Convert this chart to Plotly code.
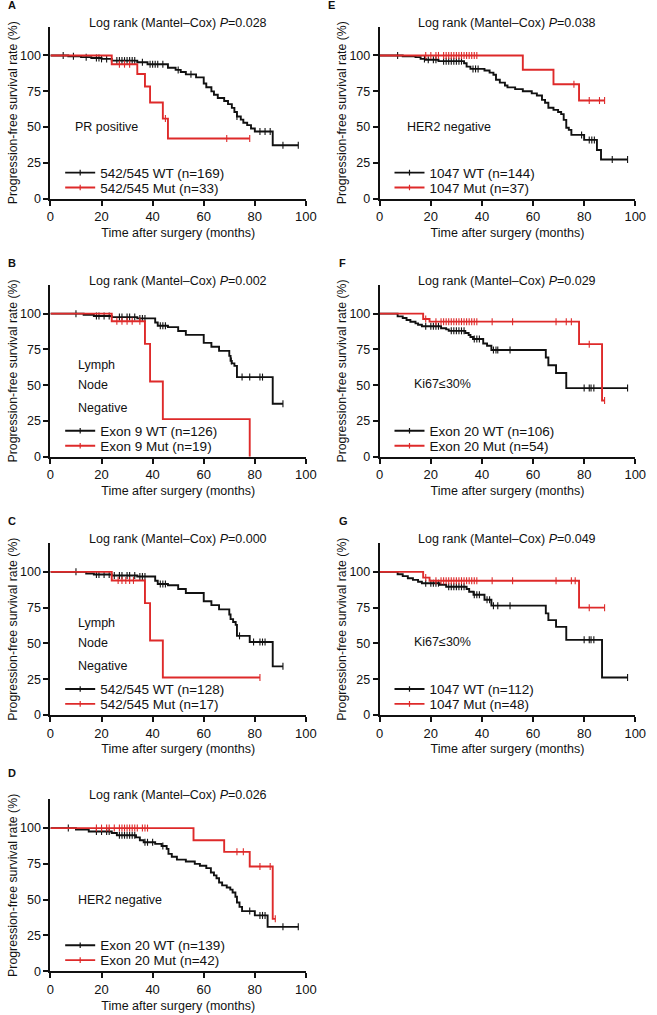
import plotly.graph_objects as go

FONT = "Liberation Sans, Arial, sans-serif"
BLACK = "#111111"
RED = "#DE2A2A"

# ---------------- data (months, survival %) ----------------
A_wt_time = [7, 12, 16, 20, 24, 34, 38, 46, 49, 51, 53, 57, 60, 61, 63, 64, 65.5, 68, 69.5, 71, 72, 73, 74.5, 75.5, 77, 78.5, 80, 87]
A_wt_surv = [99.4, 98.8, 98.2, 97.6, 96.4, 95.2, 93.9, 91.4, 89.9, 88.4, 86.8, 84.7, 80.4, 77.8, 74.9, 72.5, 70.3, 68.2, 66.0, 63.4, 60.5, 57.4, 55.2, 53.0, 51.3, 49.0, 46.9, 37.3]
A_wt_cens = [5, 9, 14, 18, 19, 20, 22, 26, 27, 28, 29, 30, 31, 32, 33, 36, 39, 40, 41, 42, 44, 50, 55, 73, 82, 84, 86, 91, 97]
A_mut_time = [24, 34, 37, 39, 44, 46]
A_mut_surv = [93.9, 87.0, 78.3, 67.1, 55.9, 42.0]
A_mut_cens = [27, 29, 31, 45, 69, 78]

B_wt_time = [13, 17, 24, 34, 41, 42, 46, 50, 53, 60, 63, 66, 70, 70.5, 71, 72, 73, 87]
B_wt_surv = [99.2, 98.4, 97.6, 96.7, 93.8, 91.5, 90.6, 87.9, 85.2, 79.6, 76.9, 74.0, 70.5, 67.0, 65.3, 63.5, 55.7, 37.1]
B_wt_cens = [10, 18, 19, 21, 23, 27, 28, 30, 31, 33, 35, 36, 37, 43, 44, 45, 70.8, 75, 78, 82, 83, 91]
B_mut_time = [24, 37, 39, 44, 78]
B_mut_surv = [94.7, 78.9, 52.6, 26.3, 0]
B_mut_cens = [26, 28, 30, 32, 35]

C_wt_time = [14, 17, 24, 34, 41, 42, 46, 50, 53, 60, 63, 66, 70, 70.5, 71.5, 72.5, 73, 78, 87]
C_wt_surv = [98.9, 98.2, 97.5, 96.8, 93.8, 91.5, 90.6, 88.0, 85.2, 79.5, 76.8, 73.8, 70.2, 67.0, 65.0, 63.0, 55.3, 51.0, 34.0]
C_wt_cens = [10, 18, 19, 21, 23, 25, 27, 28, 30, 31, 33, 35, 36, 37, 43, 44, 45, 74, 79.5, 82, 83, 84, 91]
C_mut_time = [24, 37, 39, 44]
C_mut_surv = [94.0, 78.2, 52.1, 26.2]
C_mut_cens = [26.5, 28, 29.5, 31, 32.5, 82]

D_wt_time = [10, 15, 24, 26, 33.5, 35, 36.5, 41, 43.5, 45.5, 46.2, 47.5, 49.5, 53, 56.5, 58.5, 61, 62.8, 64, 65, 66, 67.2, 69, 70.4, 71.3, 72.4, 73, 74, 75, 80, 85]
D_wt_surv = [99.0, 97.6, 96.6, 95.0, 93.5, 91.5, 90.1, 89.0, 87.5, 85.5, 82.0, 80.0, 78.0, 76.7, 75.0, 73.7, 72.0, 69.0, 67.0, 65.0, 62.0, 60.0, 58.5, 57.0, 55.0, 52.0, 48.0, 45.0, 42.0, 39.0, 31.0]
D_wt_cens = [7, 18, 20, 22, 23, 27, 28, 29, 30, 31, 32, 33, 37, 38, 40, 44, 78, 82, 83, 84, 91, 97]
D_mut_time = [56, 68, 78, 87]
D_mut_surv = [91.5, 83.4, 73.2, 36.6]
D_mut_cens = [18, 20, 22, 23, 25, 27, 28, 29, 30, 31, 32, 33, 34, 36, 37, 38, 73, 75.5, 82, 86, 88]

E_wt_time = [9, 14, 16, 18, 23, 33, 34, 35.5, 41, 43, 44.5, 45.5, 47, 49, 50, 53, 56, 59.5, 61.5, 63.5, 64.7, 66, 68, 69.8, 71, 72, 73, 74, 75, 80, 85, 86.6]
E_wt_surv = [99.4, 98.8, 97.6, 97.0, 96.0, 94.5, 92.2, 90.6, 89.5, 88.0, 86.5, 83.0, 81.0, 79.0, 77.7, 76.5, 75.0, 73.5, 72.0, 69.0, 67.0, 63.5, 62.0, 60.5, 59.0, 55.0, 49.5, 48.0, 44.5, 41.0, 34.0, 27.3]
E_wt_cens = [7, 17.5, 19, 21, 22, 25, 26, 27, 28, 29, 30, 31, 32, 36.5, 37.5, 38.5, 79, 82, 83, 84, 91, 97]
E_mut_time = [56, 68, 78]
E_mut_surv = [90.0, 79.9, 68.5]
E_mut_cens = [18, 20, 22, 23, 25, 26, 27, 28, 29, 30, 31, 32, 33, 34, 35, 36, 37, 38, 76, 82, 86, 88]

F_wt_time = [7, 9, 10.5, 12, 14, 15, 16.5, 24, 26, 27, 33.5, 34.8, 35.5, 36.5, 40.5, 42, 43.7, 65, 66, 69, 73]
F_wt_surv = [98.1, 97.0, 95.6, 94.3, 93.2, 92.2, 91.2, 89.8, 89.0, 88.0, 86.5, 85.1, 83.7, 82.3, 79.2, 77.6, 74.6, 69.4, 64.0, 58.6, 48.0]
F_wt_cens = [18, 20, 21, 22, 23, 28, 29, 30, 31, 32, 33, 37, 38, 39, 44.5, 45.5, 46.2, 51, 80, 82, 82.7, 83.8, 97]
F_mut_time = [17, 19.5, 78, 87]
F_mut_surv = [96.3, 94.4, 78.7, 39.3]
F_mut_cens = [18, 22, 24, 25, 26, 27, 28, 29, 30, 31, 32, 33, 34, 35, 36, 37, 38, 44, 52, 69, 73, 75, 82, 88]

G_wt_time = [7, 9, 11, 13, 15, 16.5, 23.5, 26, 34, 35, 36.7, 41, 43.7, 65, 66, 69, 73, 87]
G_wt_surv = [98.3, 97.0, 95.5, 94.4, 93.1, 92.1, 91.0, 89.6, 88.0, 86.1, 84.0, 80.5, 76.4, 71.0, 66.3, 61.6, 52.5, 26.2]
G_wt_cens = [18, 20, 21, 22, 23, 27, 28, 29, 30, 31, 32, 33, 37, 38, 39, 42, 43, 44.5, 46.2, 51, 80, 82, 82.7, 83.8, 97]
G_mut_time = [17, 19.5, 78]
G_mut_surv = [96.0, 93.8, 75.0]
G_mut_cens = [18, 22, 24, 25, 26, 27, 28, 29, 30, 31, 32, 33, 34, 35, 36, 37, 38, 44, 52, 69, 75, 76.5, 82, 88]

letters = ["A", "B", "C", "D", "E", "F", "G"]
p_values = ["0.028", "0.002", "0.000", "0.026", "0.038", "0.029", "0.049"]
wt_labels = ["542/545 WT (n=169)", "Exon 9 WT (n=126)", "542/545 WT (n=128)", "Exon 20 WT (n=139)",
             "1047 WT (n=144)", "Exon 20 WT (n=106)", "1047 WT (n=112)"]
mut_labels = ["542/545 Mut (n=33)", "Exon 9 Mut (n=19)", "542/545 Mut (n=17)", "Exon 20 Mut (n=42)",
              "1047 Mut (n=37)", "Exon 20 Mut (n=54)", "1047 Mut (n=48)"]
notes = [["PR positive"], ["Lymph", "Node", "Negative"], ["Lymph", "Node", "Negative"], ["HER2 negative"],
         ["HER2 negative"], ["Ki67≤30%"], ["Ki67≤30%"]]
note_x = [9, 10, 10, 10, 10, 12.7, 12.7]
note_y = [[50], [64, 50, 34], [64, 50, 34], [50], [50], [51], [51]]
x_ticks = [0, 20, 40, 60, 80, 100]
y_ticks = [0, 25, 50, 75, 100]
x_title = "Time after surgery (months)"
y_title = "Progression-free survival rate (%)"

series = [
    (A_wt_time, A_wt_surv, A_wt_cens, A_mut_time, A_mut_surv, A_mut_cens),
    (B_wt_time, B_wt_surv, B_wt_cens, B_mut_time, B_mut_surv, B_mut_cens),
    (C_wt_time, C_wt_surv, C_wt_cens, C_mut_time, C_mut_surv, C_mut_cens),
    (D_wt_time, D_wt_surv, D_wt_cens, D_mut_time, D_mut_surv, D_mut_cens),
    (E_wt_time, E_wt_surv, E_wt_cens, E_mut_time, E_mut_surv, E_mut_cens),
    (F_wt_time, F_wt_surv, F_wt_cens, F_mut_time, F_mut_surv, F_mut_cens),
    (G_wt_time, G_wt_surv, G_wt_cens, G_mut_time, G_mut_surv, G_mut_cens),
]

# ---------------- layout geometry (pixels) ----------------
W, H = 657, 1015
col_x = [(47.5, 309), (384.5, 646)]
row_y0 = [200, 460, 720, 978]
plot_h = 173
legend_rows = [26, 11]   # px above the x axis for the WT / Mut legend rows
placement = [(0, 0), (0, 1), (0, 2), (0, 3), (1, 0), (1, 1), (1, 2)]
letter_px = [(2, 5), (2, 265), (2, 525), (2, 778), (330, 5), (341, 265), (341, 525)]


def km_curve(times, surv, cens):
    end = max(list(times) + list(cens))
    x = [0] + list(times) + [end]
    y = [100] + list(surv) + [surv[-1]]
    return x, y


def censor_y(times, surv, cens):
    out = []
    for c in cens:
        s = 100
        for t, v in zip(times, surv):
            if t <= c:
                s = v
        out.append(s)
    return out


fig = go.Figure()
layout = dict(
    width=W, height=H, margin=dict(l=0, r=0, t=0, b=0),
    paper_bgcolor="white", plot_bgcolor="white",
    font=dict(family=FONT, size=12.5, color=BLACK),
    showlegend=True,
)
annotations = []
leg_count = 0

for i, (col, row) in enumerate(placement):
    n = i + 1
    sfx = "" if n == 1 else str(n)
    xa, ya = "x" + sfx, "y" + sfx
    x0, x1 = col_x[col]
    y0 = row_y0[row]
    dom_x = [x0 / W, x1 / W]
    dom_y = [1 - y0 / H, 1 - (y0 - plot_h) / H]

    wt_t, wt_s, wt_c, mu_t, mu_s, mu_c = series[i]
    groups = [(wt_t, wt_s, wt_c, BLACK, wt_labels[i]), (mu_t, mu_s, mu_c, RED, mut_labels[i])]
    for k, (t, s, c, color, label) in enumerate(groups):
        leg_count += 1
        leg = "legend" if leg_count == 1 else f"legend{leg_count}"
        cx, cy = km_curve(t, s, c)
        fig.add_trace(go.Scatter(x=cx, y=cy, mode="lines", line=dict(color=color, width=1.9, shape="hv"),
                                 xaxis=xa, yaxis=ya, showlegend=False, hoverinfo="skip", cliponaxis=False))
        fig.add_trace(go.Scatter(x=c, y=censor_y(t, s, c), mode="markers",
                                 marker=dict(symbol="line-ns", size=5, line=dict(color=color, width=1.1)),
                                 xaxis=xa, yaxis=ya, showlegend=False, hoverinfo="skip", cliponaxis=False))
        fig.add_trace(go.Scatter(x=[None], y=[None], mode="lines+markers", name=label,
                                 line=dict(color=color, width=1.9),
                                 marker=dict(symbol="line-ns", size=4, line=dict(color=color, width=1.2)),
                                 xaxis=xa, yaxis=ya, legend=leg, showlegend=True))
        layout[leg] = dict(x=(x0 + 10) / W, y=1 - (y0 - legend_rows[k]) / H, xanchor="left", yanchor="middle",
                           bgcolor="rgba(0,0,0,0)", borderwidth=0,
                           font=dict(family=FONT, size=13.5, color=BLACK), itemwidth=30, tracegroupgap=0)

    axis_common = dict(showgrid=False, zeroline=False, showline=True, linecolor=BLACK, linewidth=1.9,
                       ticks="outside", ticklen=5, tickwidth=1.9, tickcolor=BLACK)
    layout["xaxis" + sfx] = dict(domain=dom_x, anchor=ya, range=[0, 100], tickvals=x_ticks,
                                 tickfont=dict(family=FONT, size=13, color=BLACK),
                                 title=dict(text=x_title, font=dict(size=12.5), standoff=5), **axis_common)
    layout["yaxis" + sfx] = dict(domain=dom_y, anchor=xa, range=[0, 120], tickvals=y_ticks,
                                 tickfont=dict(family=FONT, size=12.5, color=BLACK),
                                 title=dict(text=y_title, font=dict(size=12.3), standoff=0), **axis_common)

    annotations.append(dict(text=f"Log rank (Mantel–Cox) <i>P</i>={p_values[i]}", xref=xa + " domain",
                            yref=ya + " domain", x=0.5, y=1 + 4 / plot_h, xanchor="center", yanchor="middle",
                            showarrow=False, font=dict(family=FONT, size=12.5, color=BLACK)))
    for txt, yy in zip(notes[i], note_y[i]):
        annotations.append(dict(text=txt, xref=xa, yref=ya, x=note_x[i], y=yy, xanchor="left",
                                yanchor="middle", showarrow=False, font=dict(family=FONT, size=12.5, color=BLACK)))
    lx, ly = letter_px[i]
    annotations.append(dict(text=f"<b>{letters[i]}</b>", xref="paper", yref="paper", x=lx / W, y=1 - ly / H,
                            xanchor="left", yanchor="middle", showarrow=False,
                            font=dict(family=FONT, size=11, color=BLACK)))

layout["annotations"] = annotations
fig.update_layout(**layout)
fig.write_html("out.html", config={"displayModeBar": False},
               post_script="document.body.style.margin='0px';document.body.style.overflow='hidden';")
